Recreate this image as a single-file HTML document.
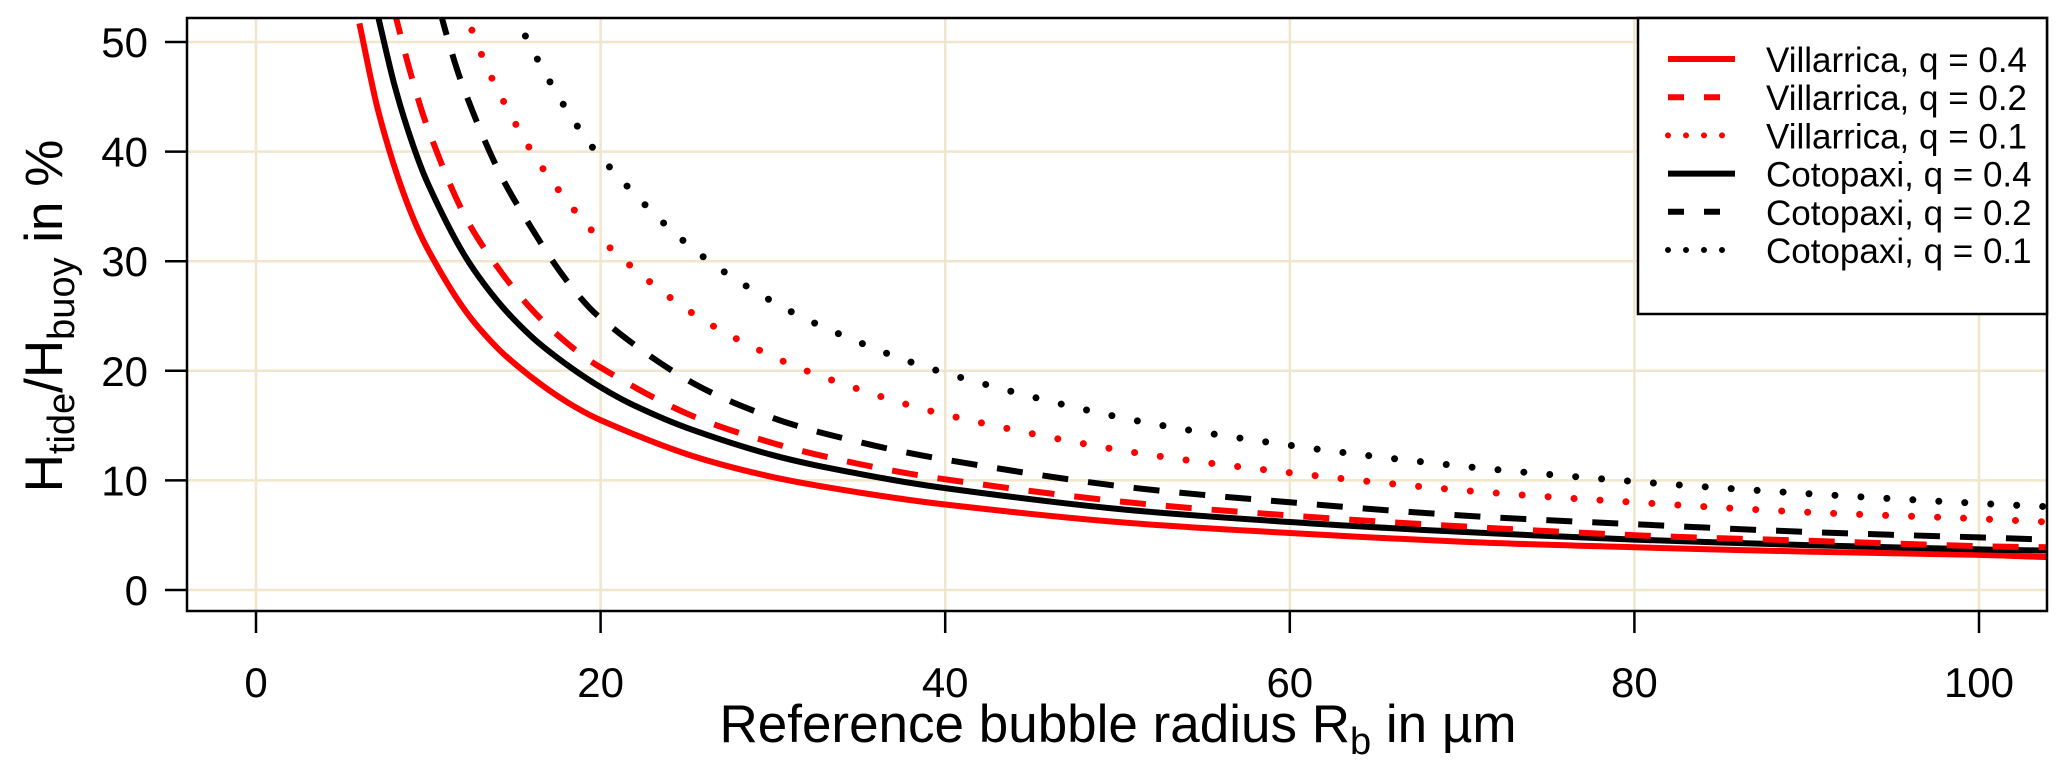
<!DOCTYPE html>
<html><head><meta charset="utf-8"><style>
html,body{margin:0;padding:0;background:#fff;}
svg{display:block;font-family:"Liberation Sans",Arial,sans-serif;}
</style></head><body>
<svg id="chart" width="2067" height="769" viewBox="0 0 2067 769" xmlns="http://www.w3.org/2000/svg">
<defs><clipPath id="clip"><rect x="187" y="18" width="1860" height="593"/></clipPath></defs>
<g id="grid"></g>
<g id="series" clip-path="url(#clip)"></g>
<rect x="187" y="18" width="1860" height="593" fill="none" stroke="#000" stroke-width="2.5"/>
<g id="axes"></g>
<text x="1118" y="742" font-size="53" text-anchor="middle">Reference bubble radius R<tspan font-size="38" dy="12">b</tspan><tspan dy="-12"> in µm</tspan></text>
<text transform="translate(62,316) rotate(-90)" font-size="53" text-anchor="middle">H<tspan font-size="38" dy="12">tide</tspan><tspan dy="-12">/H</tspan><tspan font-size="38" dy="12">buoy</tspan><tspan dy="-12"> in %</tspan></text>
<g id="legend"></g>
</svg>
<script>
const xTicks=[0,20,40,60,80,100];
const yTicks=[0,10,20,30,40,50];
const seriesNames=["Villarrica, q = 0.4","Villarrica, q = 0.2","Villarrica, q = 0.1","Cotopaxi, q = 0.4","Cotopaxi, q = 0.2","Cotopaxi, q = 0.1"];
const v04x=[6,7,8,9,10,12,14,16,18,20,25,30,35,40,50,60,70,80,90,100,104];
const v04y=[51.7,44.3,38.8,34.4,31,25.8,22.1,19.4,17.2,15.5,12.4,10.3,8.9,7.8,6.2,5.2,4.4,3.9,3.5,3.2,3.0];
const v02x=[8,9,10,12,14,16,18,20,25,30,35,40,50,60,70,80,90,100,104];
const v02y=[53,47,42,34.5,29.5,25.6,22.6,20.3,16.1,13.4,11.5,10.1,8.1,6.8,5.8,5.0,4.5,4.0,3.9];
const v01x=[12,13,14,16,18,20,25,30,35,40,50,60,70,80,90,100,104];
const v01y=[53.3,49.2,45.7,40,35.6,32,25.6,21.3,18.3,16,12.8,10.7,9.1,8,7.1,6.5,6.2];
const c04x=[7,8,9,10,12,14,16,18,20,22,25,30,35,40,50,60,70,80,90,100,104];
const c04y=[52.9,46.3,41.1,37,30.8,26.4,23.1,20.6,18.5,16.8,14.8,12.3,10.6,9.3,7.4,6.2,5.3,4.6,4.1,3.7,3.6];
const c02x=[10,11,12,14,16,18,20,25,30,35,40,50,60,70,80,90,100,104];
const c02y=[57,51,46,38.5,33,28.3,24.8,19.2,15.7,13.5,11.9,9.5,8,6.8,6,5.3,4.8,4.6];
const c01x=[15,16,18,20,25,30,35,40,50,60,70,80,90,100,104];
const c01y=[52.7,49.4,43.9,39.5,31.6,26.3,22.6,19.8,15.8,13.2,11.3,9.9,8.8,7.9,7.6];

const NS="http://www.w3.org/2000/svg";
const X0=187,X1=2047,Y0=18,Y1=611;
function sx(v){return 256+v*17.23;}
function sy(v){return 590-v*10.96;}
function mk(tag,attrs,parent){const e=document.createElementNS(NS,tag);for(const k in attrs)e.setAttribute(k,attrs[k]);parent.appendChild(e);return e;}
function smooth(p){
  let d='M'+p[0][0].toFixed(1)+','+p[0][1].toFixed(1);
  for(let i=0;i<p.length-1;i++){
    const a=p[Math.max(i-1,0)],b=p[i],c=p[i+1],e=p[Math.min(i+2,p.length-1)];
    const h=c[0]-b[0];
    const m1=(c[1]-a[1])/((c[0]-a[0])||1), m2=(e[1]-b[1])/((e[0]-b[0])||1);
    const c1=[b[0]+h/3,b[1]+m1*h/3],c2=[c[0]-h/3,c[1]-m2*h/3];
    d+=' C'+c1[0].toFixed(1)+','+c1[1].toFixed(1)+' '+c2[0].toFixed(1)+','+c2[1].toFixed(1)+' '+c[0].toFixed(1)+','+c[1].toFixed(1);
  }
  return d;
}
const grid=document.getElementById('grid'),axes=document.getElementById('axes'),ser=document.getElementById('series'),leg=document.getElementById('legend');
xTicks.forEach(t=>{
  const g=mk('line',{x1:sx(t),x2:sx(t),y1:Y0,y2:Y1,stroke:'#f0e6cc','stroke-width':2.5},grid);
  
  
  const tk=mk('line',{x1:sx(t),x2:sx(t),y1:Y1,y2:Y1+22,stroke:'#000','stroke-width':2.5},axes);
  
  
  const tx=mk('text',{x:sx(t),y:697,'font-size':42,'text-anchor':'middle'},axes);tx.textContent=t;
  
  
});
yTicks.forEach(t=>{
  const g=mk('line',{x1:X0,x2:X1,y1:sy(t),y2:sy(t),stroke:'#f0e6cc','stroke-width':2.5},grid);
  
  
  const tk=mk('line',{x1:X0-22,x2:X0,y1:sy(t),y2:sy(t),stroke:'#000','stroke-width':2.5},axes);
  
  
  const tx=mk('text',{x:148,y:sy(t)+15,'font-size':42,'text-anchor':'end'},axes);tx.textContent=t;
  
  
});
const styles=[
 {c:'#ff0000',d:'',cap:'butt'},
 {c:'#ff0000',d:'26 20',cap:'butt'},
 {c:'#ff0000',d:'0 26',cap:'round'},
 {c:'#000',d:'',cap:'butt'},
 {c:'#000',d:'26 20',cap:'butt'},
 {c:'#000',d:'0 26',cap:'round'}];
const xs=[v04x,v02x,v01x,c04x,c02x,c01x], ys=[v04y,v02y,v01y,c04y,c02y,c01y];
const order=[0,3,1,4,2,5];
order.forEach(i=>{
  const pts=xs[i].map((x,j)=>[sx(x),sy(ys[i][j])]);
  const st=styles[i];
  const p=mk('path',{d:smooth(pts),fill:'none',stroke:st.c,'stroke-width':st.cap==='round'?7:6,'stroke-linecap':st.cap,'stroke-linejoin':'round'},ser);
  if(st.d)p.setAttribute('stroke-dasharray',st.d);
  
  
});
const lb=mk('rect',{x:1638,y:18,width:409,height:296,fill:'#fff',stroke:'#000','stroke-width':2.5},leg);


seriesNames.forEach((n,i)=>{
  const y=59+i*38.2, st=styles[i];
  const l=mk('line',{x1:1668,x2:1735,y1:y,y2:y,stroke:st.c,'stroke-width':6,'stroke-linecap':st.cap},leg);
  if(st.d)l.setAttribute('stroke-dasharray',st.cap==='round'?'0 18':'16 20');
  
  
  const t=mk('text',{x:1766,y:y+13,'font-size':35},leg);t.textContent=n;
  
  
});
</script>
</body></html>
